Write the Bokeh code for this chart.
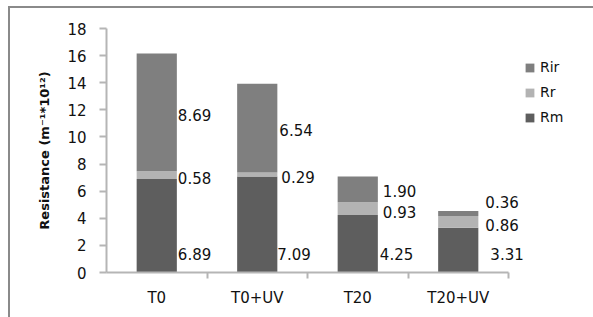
from bokeh.plotting import figure
from bokeh.models import ColumnDataSource, Range1d, FixedTicker, Legend, LegendItem, LabelSet
from bokeh.core.properties import value
from bokeh.embed import file_html
from bokeh.resources import INLINE

categories = ["T0", "T0+UV", "T20", "T20+UV"]
rm = [6.89, 7.09, 4.25, 3.31]
rr = [0.58, 0.29, 0.93, 0.86]
rir = [8.69, 6.54, 1.90, 0.36]
# where the data labels sit on the value axis
rm_label_y = [1.33, 1.33, 1.33, 1.33]
rr_label_y = [7.0, 7.08, 4.45, 3.47]
rir_label_y = [11.6, 10.5, 6.0, 5.19]
y_ticks = [0, 2, 4, 6, 8, 10, 12, 14, 16, 18]

# label pixel offsets right of each bar
rm_dx = [1, 0, 2, 12]
rr_dx = [1, 4, 5, 7]
rir_dx = [1, 2, 5, 7]

FONT = "DejaVu Sans"
C_RIR = "#7f7f7f"
C_RR = "#b3b3b3"
C_RM = "#5e5e5e"
AXC = "#b5b5b5"

n = len(categories)
xs = [i + 0.5 for i in range(n)]
src = ColumnDataSource(dict(x=xs, Rm=rm, Rr=rr, Rir=rir))

FW = 487
p = figure(width=583, height=309, output_backend="svg", toolbar_location=None,
           x_range=Range1d(0, n * FW / 402.0), y_range=Range1d(0, 18),
           frame_width=FW, frame_height=244,
           min_border_left=96, min_border_top=20, min_border_bottom=45, min_border_right=0)
p.styles = {"margin-left": "8px", "margin-top": "6px",
            "border-left": "2px solid #8a8a8a", "border-top": "2px solid #8a8a8a"}
p.outline_line_color = None
p.xgrid.grid_line_color = None
p.ygrid.grid_line_color = None

rs = p.vbar_stack(["Rm", "Rr", "Rir"], x="x", width=0.4, source=src,
                  fill_color=[C_RM, C_RR, C_RIR], line_color=None)

# data labels
def add_labels(vals, ys, dxs):
    s = ColumnDataSource(dict(x=[v + 0.2 for v in xs], y=ys, dx=dxs,
                              t=["%.2f" % v for v in vals]))
    ls = LabelSet(x="x", y="y", text="t", x_offset="dx", source=s,
                  text_font=value(FONT), text_font_size=value("15px"), text_color="#111111",
                  text_baseline="middle", text_align="left")
    p.add_layout(ls)

add_labels(rm, rm_label_y, rm_dx)
add_labels(rr, rr_label_y, rr_dx)
add_labels(rir, rir_label_y, rir_dx)

# y axis
ya = p.yaxis[0]
ya.ticker = FixedTicker(ticks=y_ticks)
ya.axis_line_color = AXC
ya.axis_line_width = 2
ya.major_tick_line_color = AXC
ya.major_tick_line_width = 2
ya.major_tick_out = 7
ya.major_tick_in = 0
ya.minor_tick_line_color = None
ya.major_label_standoff = 13
ya.major_label_text_font = FONT
ya.major_label_text_font_size = "15px"
ya.major_label_text_color = "#111111"
ya.axis_label = "Resistance (m\u207b\u00b9*10\u00b9\u00b2)"
ya.axis_label_text_font = FONT
ya.axis_label_text_font_size = "13px"
ya.axis_label_text_font_style = "bold"
ya.axis_label_text_color = "#111111"
ya.axis_label_standoff = 12

# x axis: labels at category centres, ticks at boundaries
xa = p.xaxis[0]
xa.bounds = (0, n)
xa.ticker = FixedTicker(ticks=xs, minor_ticks=list(range(1, n + 1)))
xa.major_label_overrides = {x: c for x, c in zip(xs, categories)}
xa.axis_line_color = AXC
xa.axis_line_width = 2
xa.major_tick_line_color = None
xa.major_tick_out = 0
xa.major_tick_in = 0
xa.minor_tick_line_color = AXC
xa.minor_tick_line_width = 2
xa.minor_tick_out = 6
xa.minor_tick_in = 0
xa.major_label_standoff = 10
xa.major_label_text_font = FONT
xa.major_label_text_font_size = "15px"
xa.major_label_text_color = "#111111"

legend = Legend(items=[LegendItem(label="Rir", renderers=[rs[2]]),
                       LegendItem(label="Rr", renderers=[rs[1]]),
                       LegendItem(label="Rm", renderers=[rs[0]])],
                location=(418, 145), orientation="vertical",
                glyph_width=11, glyph_height=11, label_standoff=5,
                label_height=20, spacing=5, padding=0, margin=0,
                border_line_color=None, background_fill_color=None,
                label_text_font=FONT, label_text_font_size="14px",
                label_text_color="#111111")
p.add_layout(legend, "center")

open("out.html", "w").write(file_html(p, INLINE))
